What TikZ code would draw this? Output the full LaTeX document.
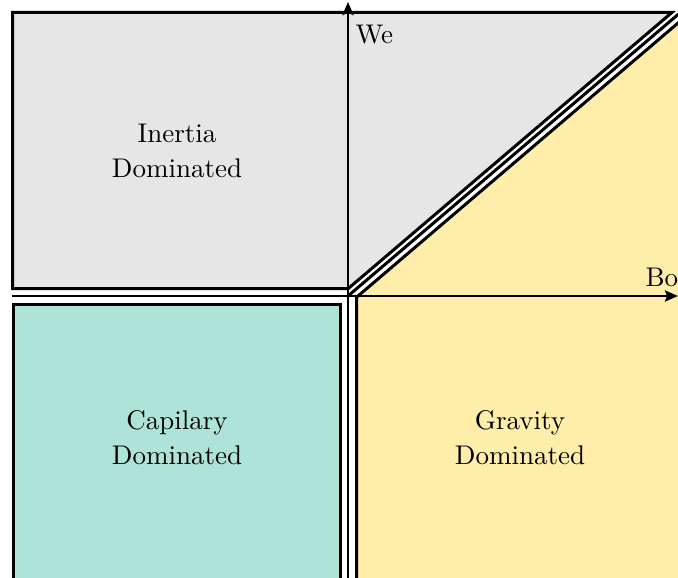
\documentclass[tikz,border=0pt]{standalone}
\usetikzlibrary{arrows.meta}
\definecolor{grayfill}{HTML}{E6E6E6}
\definecolor{tealfill}{HTML}{AEE3D7}
\definecolor{yellowfill}{HTML}{FFEDAA}
\begin{document}
\begin{tikzpicture}[x=1pt,y=-1pt,
  region/.style={draw=black,line width=3pt,line join=miter},
  axis/.style={draw=black,line width=2.5pt,-{Stealth[length=13pt,width=11pt,inset=2pt]}},
  sepline/.style={draw=black,line width=3pt},
  label/.style={font=\fontsize{10}{13}\selectfont,align=center,inner sep=0pt,scale=2.7},
  axlabel/.style={font=\normalsize,inner sep=0pt,scale=2.7}]
\useasboundingbox (0,0) rectangle (678,578);
\clip (0,0) rectangle (678,578);
% regions
\path[region,fill=grayfill] (12.5,12.5) -- (671.9,12.5) -- (348.3,288.5) -- (12.5,288.5) -- cycle;
\path[region,fill=tealfill] (13.5,304.5) rectangle (340.5,581);
\path[region,fill=yellowfill] (356.5,297.3) -- (720,-12.8) -- (720,600) -- (356.5,600) -- cycle;
% coordinates for axes and separator
\coordinate (O) at (348,296);
\coordinate (boS) at (12,296);
\coordinate (boE) at (678,296);
\coordinate (weS) at (348,600);
\coordinate (weE) at (348,2);
\coordinate (diagE) at (720,-21.3);
\draw[sepline] (O) -- (diagE);
\draw[axis] (boS) -- (boE);
\draw[axis] (weS) -- (weE);
% labels
\node[axlabel,anchor=base west] (we) at (355,44) {We};
\node[axlabel,anchor=base west] (bo) at (645,286) {Bo};
\node[label] (inertia) at (177,151) {Inertia\\Dominated};
\node[label] (capil) at (177,438) {Capilary\\Dominated};
\node[label] (grav) at (520,438) {Gravity\\Dominated};
\end{tikzpicture}
\end{document}
